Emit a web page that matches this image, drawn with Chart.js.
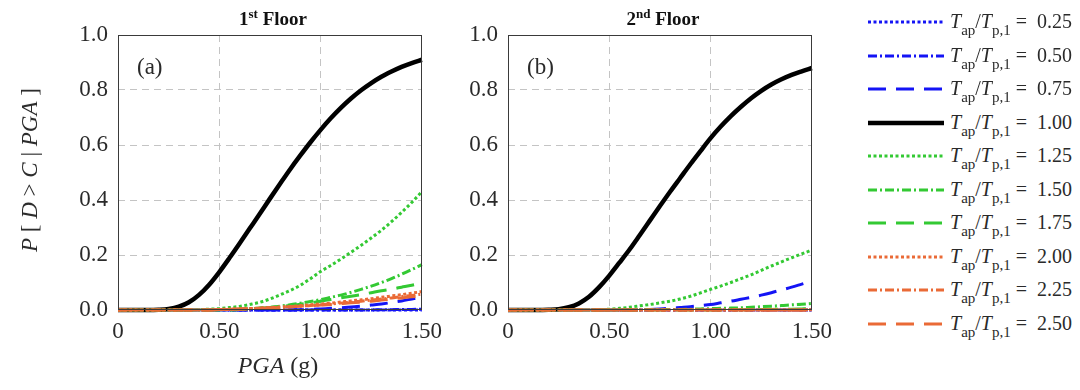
<!DOCTYPE html>
<html><head><meta charset="utf-8">
<script src="https://cdn.jsdelivr.net/npm/chart.js@4.4.0/dist/chart.umd.min.js"></script>
<style>
body{margin:0;width:1080px;height:390px;background:#fff;position:relative;overflow:hidden;font-family:"Liberation Serif","Times New Roman",serif;color:#2a2a2a}
.abs{position:absolute;white-space:nowrap}
.ttl{font-weight:bold;font-size:19px;transform:translateX(-50%);color:#111}
.ttl sup{font-size:13px;vertical-align:7px;line-height:0}
.lbl{font-size:23px}
.leg{font-size:20px;line-height:20px}
.leg sub{font-size:15px;vertical-align:-7px;line-height:0}
</style></head><body>
<div class="abs" style="left:0;top:0;width:450px;height:390px"><canvas id="c1"></canvas></div>
<div class="abs" style="left:390px;top:0;width:450px;height:390px"><canvas id="c2"></canvas></div>
<div class="abs ttl" style="left:273px;top:8px">1<sup>st</sup> Floor</div>
<div class="abs ttl" style="left:663px;top:8px">2<sup>nd</sup> Floor</div>
<div class="abs lbl" style="left:137px;top:54px">(a)</div>
<div class="abs lbl" style="left:527px;top:54px">(b)</div>
<div class="abs lbl" style="left:278px;top:352px;transform:translateX(-50%);font-size:24px"><i>PGA</i> (g)</div>
<div class="abs lbl" style="left:30px;top:170px;transform:translate(-50%,-50%) rotate(-90deg)"><i>P</i> [ <i>D</i> &gt; <i>C</i> | <i>PGA</i> ]</div>
<div id="legend"></div>
<script>
// PGA grid (g), step 0.05
const pga = [0,0.05,0.1,0.15,0.2,0.25,0.3,0.35,0.4,0.45,0.5,0.55,0.6,0.65,0.7,0.75,0.8,0.85,0.9,0.95,1.0,1.05,1.1,1.15,1.2,1.25,1.3,1.35,1.4,1.45,1.5];
const ratioLabels = ['0.25','0.50','0.75','1.00','1.25','1.50','1.75','2.00','2.25','2.50'];
const xTicks = [0,0.5,1.0,1.5];
const yTicks = [0,0.2,0.4,0.6,0.8,1.0];

// Panel (a): 1st Floor
const a025 = [0,0,0,0,0,0,0,0,0,0,0,0,0,0,0,0,0,0,0,0,0,0,0,0,0,0,0,0,0,0,0];
const a050 = [0,0,0,0,0,0,0,0,0,0,0,0,0,0,0,0,0,0,0,0,0,0,0,0,0,0,0.001,0.001,0.002,0.002,0.003];
const a075 = [0,0,0,0,0,0,0,0,0,0,0,0,0,0,0,0,0,0,0.001,0.002,0.004,0.006,0.008,0.011,0.014,0.018,0.022,0.027,0.033,0.04,0.047];
const a100 = [0,0,0,0,0.001,0.004,0.012,0.028,0.055,0.092,0.138,0.189,0.242,0.296,0.35,0.405,0.459,0.512,0.562,0.61,0.655,0.697,0.735,0.769,0.799,0.825,0.848,0.867,0.884,0.898,0.91];
const a125 = [0,0,0,0,0,0,0,0,0.001,0.003,0.005,0.009,0.013,0.02,0.028,0.04,0.055,0.071,0.09,0.114,0.14,0.162,0.185,0.21,0.235,0.262,0.29,0.321,0.355,0.391,0.43];
const a150 = [0,0,0,0,0,0,0,0,0,0,0.001,0.002,0.003,0.005,0.007,0.01,0.014,0.019,0.025,0.031,0.038,0.046,0.054,0.064,0.075,0.087,0.1,0.114,0.13,0.147,0.165];
const a175 = [0,0,0,0,0,0,0,0,0,0,0,0,0.002,0.004,0.006,0.009,0.012,0.016,0.021,0.026,0.032,0.038,0.044,0.05,0.056,0.063,0.07,0.076,0.083,0.09,0.098];
const a200 = [0,0,0,0,0,0,0,0,0,0,0.002,0.003,0.004,0.005,0.007,0.009,0.011,0.013,0.016,0.019,0.022,0.025,0.029,0.033,0.037,0.041,0.046,0.051,0.056,0.061,0.067];
const a225 = [0,0,0,0,0,0,0,0,0,0,0.002,0.002,0.003,0.004,0.006,0.007,0.009,0.011,0.014,0.016,0.019,0.022,0.025,0.028,0.032,0.036,0.04,0.044,0.049,0.053,0.058];
const a250 = [0,0,0,0,0,0,0,0,0,0,0.002,0.003,0.004,0.005,0.006,0.008,0.01,0.012,0.014,0.016,0.018,0.02,0.023,0.026,0.029,0.032,0.036,0.04,0.044,0.048,0.052];

// Panel (b): 2nd Floor
const b025 = [0,0,0,0,0,0,0,0,0,0,0,0,0,0,0,0,0,0,0,0,0,0,0,0,0,0,0,0,0,0,0];
const b050 = [0,0,0,0,0,0,0,0,0,0,0,0,0,0,0,0,0,0,0,0,0,0,0,0,0,0,0,0,0,0,0];
const b075 = [0,0,0,0,0,0,0,0,0,0,0,0,0,0,0.002,0.004,0.006,0.009,0.012,0.016,0.02,0.026,0.032,0.039,0.046,0.054,0.063,0.073,0.083,0.094,0.105];
const b100 = [0,0,0,0,0.001,0.003,0.01,0.024,0.048,0.083,0.125,0.172,0.22,0.272,0.325,0.378,0.43,0.48,0.53,0.578,0.625,0.667,0.705,0.739,0.77,0.797,0.82,0.839,0.855,0.868,0.88];
const b125 = [0,0,0,0,0,0,0,0,0,0.001,0.003,0.006,0.01,0.015,0.02,0.026,0.032,0.04,0.05,0.062,0.075,0.087,0.1,0.114,0.128,0.144,0.16,0.175,0.19,0.204,0.218];
const b150 = [0,0,0,0,0,0,0,0,0,0,0,0,0,0,0.001,0.001,0.002,0.002,0.003,0.004,0.005,0.006,0.007,0.008,0.01,0.012,0.014,0.016,0.019,0.021,0.024];
const b175 = [0,0,0,0,0,0,0,0,0,0,0,0,0,0,0,0,0,0,0,0,0,0,0.001,0.001,0.001,0.002,0.002,0.003,0.003,0.004,0.005];
const b200 = [0,0,0,0,0,0,0,0,0,0,0,0,0,0,0,0,0,0,0,0,0,0,0,0,0,0,0,0,0,0,0.001];
const b225 = [0,0,0,0,0,0,0,0,0,0,0,0,0,0,0,0,0,0,0,0,0,0,0,0,0,0,0,0,0,0,0.001];
const b250 = [0,0,0,0,0,0,0,0,0,0,0,0,0,0,0,0,0,0,0,0,0,0,0,0,0,0,0,0,0,0,0.001];

const BLUE='#1414f5', BLACK='#000000', GREEN='#33c933', ORANGE='#ea6a36';
const styles = [
  {c:BLUE,d:[3,2.5],w:3},{c:BLUE,d:[9,3,2,3],w:3},{c:BLUE,d:[18,10],w:3},
  {c:BLACK,d:[],w:4.5},
  {c:GREEN,d:[3,2.5],w:3},{c:GREEN,d:[9,3,2,3],w:3},{c:GREEN,d:[18,10],w:3},
  {c:ORANGE,d:[3,2.5],w:3},{c:ORANGE,d:[9,3,2,3],w:3},{c:ORANGE,d:[18,10],w:3}
];
const FONT = {family:'"Liberation Serif","Times New Roman",serif', size:23};

function makeDatasets(series){
  const ds = series.map((vals,i)=>({
    label: ratioLabels[i],
    data: vals.map((v,k)=>({x:pga[k], y:v})),
    borderColor: styles[i].c, borderDash: styles[i].d, borderWidth: styles[i].w,
    pointRadius:0, fill:false, cubicInterpolationMode:'monotone', clip:false,
    borderCapStyle:'butt'
  }));
  return ds.reverse();
}
const frame = {id:'frame', afterDatasetsDraw(chart){
  const {ctx,chartArea:a}=chart; ctx.save(); ctx.strokeStyle='#3a3a3a'; ctx.lineWidth=1; ctx.setLineDash([]);
  ctx.strokeRect(Math.round(a.left)+0.5,Math.round(a.top)+0.5,Math.round(a.right-a.left)-1,Math.round(a.bottom-a.top)-1);
  ctx.restore();
}};
function makeChart(id, series){
  return new Chart(document.getElementById(id), {
    type:'line',
    data:{datasets: makeDatasets(series)},
    plugins:[frame],
    options:{
      responsive:true, maintainAspectRatio:false, animation:false, devicePixelRatio:1,
      layout:{padding:{top:35,right:22,bottom:0,left:0}},
      plugins:{legend:{display:false}, tooltip:{enabled:false}},
      scales:{
        x:{type:'linear', min:0, max:1.5,
          afterBuildTicks: s=>{s.ticks = xTicks.map(v=>({value:v}));},
          afterFit: s=>{s.height=80;},
          ticks:{callback:v=> v===0?'0':v.toFixed(2), font:FONT, color:'#2a2a2a', padding:8, maxRotation:0},
          grid:{drawTicks:false, color:c=> (c.tick && c.tick.value>0 && c.tick.value<1.5)?'#c4c4c4':'rgba(0,0,0,0)', lineWidth:1},
          border:{display:false, dash:[7,5]}
        },
        y:{min:0, max:1,
          afterBuildTicks: s=>{s.ticks = yTicks.map(v=>({value:v}));},
          afterFit: s=>{s.width=118;},
          ticks:{callback:v=> v.toFixed(1), font:FONT, color:'#2a2a2a', padding:10},
          grid:{drawTicks:false, color:c=> (c.tick && c.tick.value>0 && c.tick.value<1)?'#c4c4c4':'rgba(0,0,0,0)', lineWidth:1},
          border:{display:false, dash:[7,5]}
        }
      }
    }
  });
}
makeChart('c1',[a025,a050,a075,a100,a125,a150,a175,a200,a225,a250]);
makeChart('c2',[b025,b050,b075,b100,b125,b150,b175,b200,b225,b250]);

// custom legend
const leg = document.getElementById('legend');
let html='';
ratioLabels.forEach((lab,i)=>{
  const y = 22 + 33.5*i;
  const s = styles[i];
  html += `<svg class="abs" style="left:868px;top:${y-4}px" width="76" height="8"><line x1="0" y1="4" x2="76" y2="4" stroke="${s.c}" stroke-width="${s.w}" stroke-dasharray="${s.d.length?s.d.join(' '):'none'}"/></svg>`;
  html += `<div class="abs leg" style="left:950px;top:${y-11}px"><i>T</i><sub>ap</sub>/<i>T</i><sub>p,1</sub>&nbsp;=&nbsp; ${lab}</div>`;
});
leg.innerHTML = html;
</script>
</body></html>
